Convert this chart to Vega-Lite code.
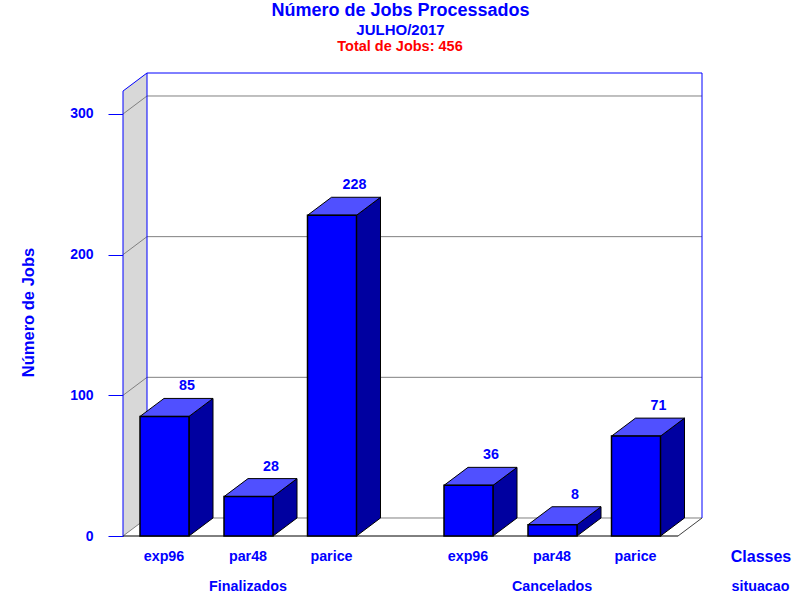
{
"$schema":"https://vega.github.io/schema/vega-lite/v6.json",
"width":677,"height":463,
"autosize":{"type":"none"},
"padding":{"left":123,"top":73,"right":0,"bottom":64},
"background":"white",
"title":{"text":"Número de Jobs Processados","subtitle":"JULHO/2017","anchor":"middle","dx":-61,"font":"Liberation Sans","fontSize":18,"fontWeight":"bold","color":"#0000ff","subtitleFont":"Liberation Sans","subtitleFontSize":15,"subtitleFontWeight":"bold","subtitleColor":"#0000ff","subtitlePadding":3,"offset":1},
"config":{"view":{"stroke":null},"font":"Liberation Sans"},
"datasets":{
"jobs":[
{"situacao":"Finalizados","classe":"exp96","jobs":85},
{"situacao":"Finalizados","classe":"par48","jobs":28},
{"situacao":"Finalizados","classe":"parice","jobs":228},
{"situacao":"Cancelados","classe":"exp96","jobs":36},
{"situacao":"Cancelados","classe":"par48","jobs":8},
{"situacao":"Cancelados","classe":"parice","jobs":71}
],
"wall":[{"a":123,"lo":0,"hi":316.3},{"a":147,"lo":12.8,"hi":329.14}],
"frame":[
{"a":123,"a2":147,"b":100,"b2":112.8,"tom":"#808080"},
{"a":123,"a2":147,"b":200,"b2":212.8,"tom":"#808080"},
{"a":123,"a2":147,"b":300,"b2":312.8,"tom":"#808080"},
{"a":147,"a2":702,"b":112.8,"b2":112.8,"tom":"#808080"},
{"a":147,"a2":702,"b":212.8,"b2":212.8,"tom":"#808080"},
{"a":147,"a2":702,"b":312.8,"b2":312.8,"tom":"#808080"},
{"a":123,"a2":147,"b":0,"b2":12.8,"tom":"#808080"},
{"a":147,"a2":702,"b":12.8,"b2":12.8,"tom":"#808080"},
{"a":678,"a2":702,"b":0,"b2":12.8,"tom":"#404040"},
{"a":123,"a2":678,"b":0,"b2":0,"tom":"#000000"},
{"a":123,"a2":123,"b":0,"b2":316.3,"tom":"#0000ff"},
{"a":147,"a2":147,"b":12.8,"b2":329.14,"tom":"#0000ff"},
{"a":702,"a2":702,"b":12.8,"b2":329.14,"tom":"#0000ff"},
{"a":123,"a2":147,"b":316.3,"b2":329.14,"tom":"#0000ff"},
{"a":147,"a2":702,"b":329.14,"b2":329.14,"tom":"#0000ff"}
],
"notes":[
{"label":"Total de Jobs: 456","a":400,"b":347.8,"tom":"#ff0000","fs":"14.5"},
{"label":"Finalizados","a":248,"b":-36.2,"tom":"#0000ff","fs":"14.3"},
{"label":"Cancelados","a":552,"b":-36.2,"tom":"#0000ff","fs":"14.3"},
{"label":"Classes","a":761,"b":-15,"tom":"#0000ff","fs":"16"},
{"label":"situacao","a":760.5,"b":-36.2,"tom":"#0000ff","fs":"14.3"}
]
},
"data":{"name":"jobs"},
"transform":[
{"calculate":"{'Finalizados':140,'Cancelados':444}[datum.situacao]+{'exp96':0,'par48':84,'parice':167.5}[datum.classe]","as":"esq"},
{"calculate":"datum.esq+49","as":"dir"},
{"calculate":"datum.esq+24","as":"meio"},
{"calculate":"datum.esq+47","as":"rotulo"},
{"calculate":"datum.situacao+datum.classe","as":"chave"}
],
"layer":[
{"data":{"name":"wall"},"mark":{"type":"area","orient":"vertical","color":"#d8d8d8"},
"encoding":{
"x":{"field":"a","type":"quantitative","scale":{"domain":[123,800],"nice":false,"zero":false},"axis":null},
"y":{"field":"lo","type":"quantitative","scale":{"domain":[0,329.14],"nice":false,"zero":false},
"axis":{"title":"Número de Jobs","values":[0,100,200,300],"domain":false,"grid":false,"tickSize":15,"tickColor":"#0000ff","tickWidth":1,"labelColor":"#0000ff","labelFont":"Liberation Sans","labelFontSize":14,"labelFontWeight":"bold","labelPadding":15,"titleColor":"#0000ff","titleFont":"Liberation Sans","titleFontSize":16.5,"titleFontWeight":"bold","titleX":-95,"titleY":239,"titleAngle":-90,"titleAlign":"center","titleBaseline":"middle"}},
"y2":{"field":"hi"}}},
{"data":{"name":"frame"},"mark":{"type":"rule","strokeWidth":1},
"encoding":{
"x":{"field":"a","type":"quantitative"},"x2":{"field":"a2"},
"y":{"field":"b","type":"quantitative"},"y2":{"field":"b2"},
"color":{"field":"tom","type":"nominal","scale":null,"legend":null}}},
{"transform":[{"calculate":"[0,1]","as":"t"},{"flatten":["t"]},
{"calculate":"datum.dir+24*datum.t","as":"sx"},{"calculate":"datum.jobs+12.8*datum.t","as":"sy"},{"calculate":"12.8*datum.t","as":"sy2"}],
"mark":{"type":"area","orient":"vertical","color":"#0000a0","stroke":"#000000","strokeWidth":1},
"encoding":{"x":{"field":"sx","type":"quantitative"},"y":{"field":"sy","type":"quantitative"},"y2":{"field":"sy2"},"detail":{"field":"chave"}}},
{"transform":[{"calculate":"[0,1]","as":"t"},{"flatten":["t"]},
{"calculate":"datum.esq+24*datum.t","as":"tx"},{"calculate":"datum.dir+24*datum.t","as":"tx2"},{"calculate":"datum.jobs+12.8*datum.t","as":"ty"}],
"mark":{"type":"area","orient":"horizontal","color":"#5050ff","stroke":"#000000","strokeWidth":1},
"encoding":{"y":{"field":"ty","type":"quantitative"},"x":{"field":"tx","type":"quantitative"},"x2":{"field":"tx2"},"detail":{"field":"chave"}}},
{"mark":{"type":"rect","color":"#0000ff","stroke":"#000000","strokeWidth":1.5},
"encoding":{"x":{"field":"esq","type":"quantitative"},"x2":{"field":"dir"},"y":{"field":"jobs","type":"quantitative"},"y2":{"datum":0}}},
{"mark":{"type":"text","color":"#0000ff","font":"Liberation Sans","fontWeight":"bold","fontSize":14.3,"dy":-30,"baseline":"middle"},
"encoding":{"x":{"field":"rotulo","type":"quantitative"},"y":{"field":"jobs","type":"quantitative"},"text":{"field":"jobs","type":"quantitative"}}},
{"mark":{"type":"text","color":"#0000ff","font":"Liberation Sans","fontWeight":"bold","fontSize":14.3,"dy":21,"baseline":"middle"},
"encoding":{"x":{"field":"meio","type":"quantitative"},"y":{"datum":0},"text":{"field":"classe","type":"nominal"}}},
{"data":{"name":"notes"},"mark":{"type":"text","font":"Liberation Sans","fontWeight":"bold","baseline":"middle"},
"encoding":{"x":{"field":"a","type":"quantitative"},"y":{"field":"b","type":"quantitative"},"text":{"field":"label","type":"nominal"},
"color":{"field":"tom","type":"nominal","scale":null,"legend":null},
"size":{"field":"fs","type":"quantitative","scale":null,"legend":null}}}
]
}
